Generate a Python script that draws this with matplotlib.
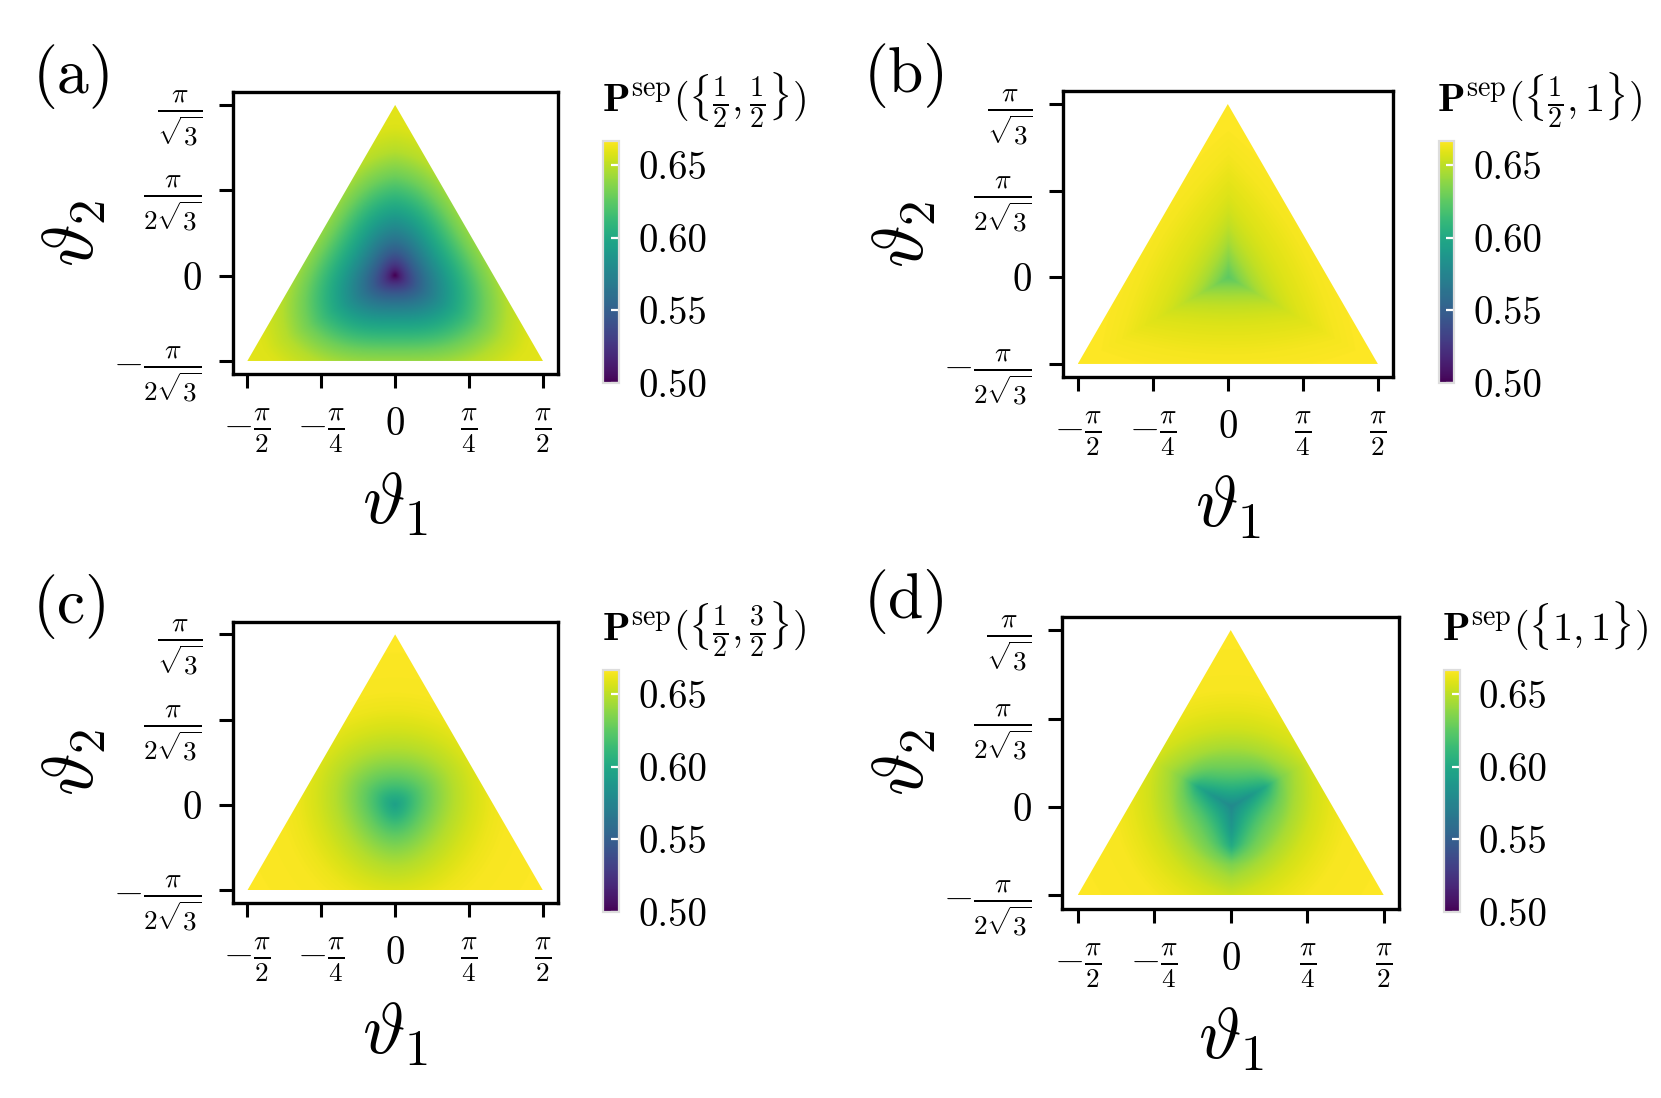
import numpy as np
import matplotlib
matplotlib.use('Agg')
import matplotlib.pyplot as plt
from matplotlib.patches import Polygon

plt.rcParams['font.family'] = 'serif'
plt.rcParams['font.serif'] = ['cmr10']
plt.rcParams['mathtext.fontset'] = 'cm'
plt.rcParams['axes.formatter.use_mathtext'] = True

# ---- data ----
panel_labels = ['(a)', '(b)', '(c)', '(d)']
cbar_titles = [
    r'$\mathbf{P}^{\mathrm{sep}}(\{\frac{1}{2},\frac{1}{2}\})$',
    r'$\mathbf{P}^{\mathrm{sep}}(\{\frac{1}{2},1\})$',
    r'$\mathbf{P}^{\mathrm{sep}}(\{\frac{1}{2},\frac{3}{2}\})$',
    r'$\mathbf{P}^{\mathrm{sep}}(\{1,1\})$',
]

# P^sep against the distance from the centroid (measured between the lobes)
rho_pts = [0.0, 0.05, 0.1, 0.2, 0.3, 0.4, 0.5, 0.6, 0.8, 1.0, 1.2, 2.0]
p_a = [0.500, 0.515, 0.527, 0.548, 0.565, 0.580, 0.594, 0.606, 0.630, 0.648, 0.658, 0.667]
p_b = [0.625, 0.630, 0.636, 0.645, 0.651, 0.655, 0.658, 0.660, 0.664, 0.666, 0.667, 0.667]
p_c = [0.595, 0.600, 0.605, 0.617, 0.627, 0.635, 0.642, 0.648, 0.656, 0.662, 0.665, 0.667]
p_d = [0.578, 0.586, 0.593, 0.607, 0.620, 0.630, 0.637, 0.645, 0.655, 0.661, 0.665, 0.667]

# 3-fold lobes: direction (corners or edge middles), strength vs radius, pointedness
lobe_dir = ['corner', 'corner', 'edge', 'edge']
s_r = [0.0, 0.2, 0.4, 0.6, 1.0, 2.0]
s_a = [0.08, 0.18, 0.22, 0.24, 0.24, 0.24]
s_b = [0.50, 0.50, 0.48, 0.45, 0.40, 0.30]
s_c = [0.10, 0.12, 0.12, 0.10, 0.05, 0.00]
s_d = [0.70, 0.72, 0.60, 0.22, 0.10, 0.00]
pointed = [0.2, 1.0, 0.3, 1.0]

profiles = [p_a, p_b, p_c, p_d]
lobes = [s_a, s_b, s_c, s_d]

x_ticks = [-np.pi / 2, -np.pi / 4, 0, np.pi / 4, np.pi / 2]
x_ticklabels = [r'$-\frac{\pi}{2}$', r'$-\frac{\pi}{4}$', r'$0$',
                r'$\frac{\pi}{4}$', r'$\frac{\pi}{2}$']
y_ticks = [-np.pi / (2 * np.sqrt(3)), 0, np.pi / (2 * np.sqrt(3)), np.pi / np.sqrt(3)]
y_ticklabels = [r'$-\frac{\pi}{2\sqrt{3}}$', r'$0$',
                r'$\frac{\pi}{2\sqrt{3}}$', r'$\frac{\pi}{\sqrt{3}}$']
cbar_ticks = [0.50, 0.55, 0.60, 0.65]
vmin, vmax = 0.5, 2 / 3

# ---- layout (figure fractions) ----
ax_rects = [
    [0.1397, 0.6596, 0.1964, 0.2565],
    [0.6397, 0.6567, 0.1990, 0.2604],
    [0.1397, 0.1774, 0.1964, 0.2565],
    [0.6395, 0.1722, 0.2029, 0.2663],
]
cax_rects = [
    [0.3633, 0.6510, 0.0094, 0.2209],
    [0.8661, 0.6510, 0.0094, 0.2209],
    [0.3633, 0.1692, 0.0094, 0.2209],
    [0.8693, 0.1692, 0.0094, 0.2209],
]

fig = plt.figure(figsize=(8.305, 5.49), dpi=200)

# equilateral triangle, centroid at the origin
x_lo, x_hi = -np.pi / 2, np.pi / 2
y_lo, y_hi = -np.pi / (2 * np.sqrt(3)), np.pi / np.sqrt(3)
corners = np.array([[x_lo, y_lo], [x_hi, y_lo], [0.0, y_hi]])

n = 700
X, Y = np.meshgrid(np.linspace(x_lo, x_hi, n), np.linspace(y_lo, y_hi, n))
R = np.hypot(X, Y)
TH = np.degrees(np.arctan2(Y, X))

for i in range(4):
    ax = fig.add_axes(ax_rects[i])

    # angular distance (deg) to the nearest lobe direction -> u in [0, 1]
    start = 90.0 if lobe_dir[i] == 'corner' else 30.0
    psi = np.mod(TH - start, 120.0)
    psi = np.minimum(psi, 120.0 - psi)
    u = psi / 60.0
    w = (1 - pointed[i]) * (1 + np.cos(np.pi * u)) / 2 + pointed[i] * (1 - u) ** 2
    S = np.interp(R, s_r, lobes[i])
    rho = R * (1 - S * w)
    P = np.interp(rho, rho_pts, profiles[i])

    im = ax.imshow(P, extent=[x_lo, x_hi, y_lo, y_hi], origin='lower',
                   cmap='viridis', vmin=vmin, vmax=vmax, interpolation='bilinear')
    tri = Polygon(corners, closed=True, facecolor='none', edgecolor='none',
                  transform=ax.transData)
    im.set_clip_path(tri)

    mx = 0.05 * (x_hi - x_lo)
    my = 0.05 * (y_hi - y_lo)
    ax.set_xlim(x_lo - mx, x_hi + mx)
    ax.set_ylim(y_lo - my, y_hi + my)
    ax.set_aspect('equal')

    ax.set_xticks(x_ticks)
    ax.set_xticklabels(x_ticklabels)
    ax.set_yticks(y_ticks)
    ax.set_yticklabels(y_ticklabels)
    ax.tick_params(direction='out', length=5, width=1.1, labelsize=14)
    ax.tick_params(axis='x', pad=7)
    ax.tick_params(axis='y', pad=6)
    for s in ax.spines.values():
        s.set_linewidth(1.2)

    cax = fig.add_axes(cax_rects[i])
    cb = fig.colorbar(im, cax=cax, ticks=cbar_ticks, format='%.2f')
    cb.outline.set_edgecolor('#dddddd')
    cb.outline.set_linewidth(0.8)
    cax.tick_params(direction='in', color='white', length=3, width=0.8,
                    labelsize=14, pad=7)

    # colorbar title
    cl, cbot, cw, ch = cax_rects[i]
    fig.text(cl - 0.001, cbot + ch + 0.026, cbar_titles[i], fontsize=14.5,
             ha='left', va='baseline')

    # axis labels and panel letter
    l, b, w_, h = ax_rects[i]
    fig.text(l + w_ / 2, b - 0.119, r'$\vartheta_1$', fontsize=26,
             ha='center', va='center')
    fig.text(l - 0.095, b + h / 2, r'$\vartheta_2$', fontsize=26,
             ha='center', va='center', rotation=90)
    fig.text(l - 0.1197, b + h + 0.014, panel_labels[i], fontsize=23,
             ha='left', va='center')

fig.savefig('out.png', dpi=200)
plt.close(fig)
